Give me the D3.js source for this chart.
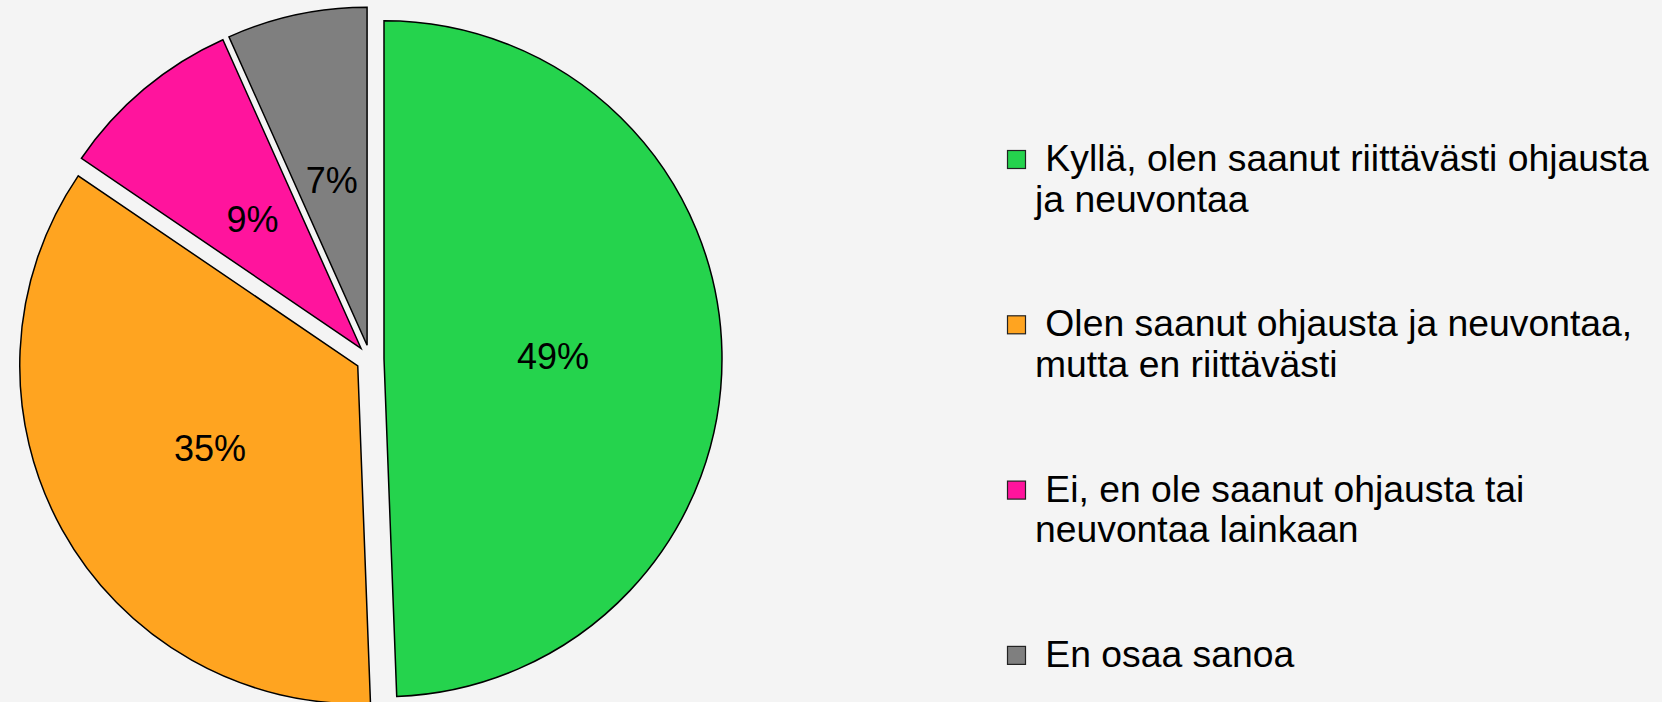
<!DOCTYPE html>
<html>
<head>
<meta charset="utf-8">
<script src="https://cdn.jsdelivr.net/npm/d3@7"></script>
<style>
  html, body { margin: 0; padding: 0; background: #f4f4f4; }
  svg { display: block; }
</style>
</head>
<body>
<svg id="chart"></svg>
<script>
// categories (legend lines) and shares in percent
var categories = [
  ["Kyllä, olen saanut riittävästi ohjausta", "ja neuvontaa"],
  ["Olen saanut ohjausta ja neuvontaa,", "mutta en riittävästi"],
  ["Ei, en ole saanut ohjausta tai", "neuvontaa lainkaan"],
  ["En osaa sanoa"]
];
var values = [49.4, 35.1, 8.8, 6.7];
var colors = ["#25d34d", "#ffa420", "#ff149d", "#7f7f7f"];

window.onload = function () {
  var width = 1662;
  var height = 702;
  var cx = 370, cy = 359;
  var radius = 338;
  var explode = 14;

  var svg = d3.select("#chart").attr("width", width).attr("height", height);

  var pie = d3.pie().sort(null).value(function (d) { return d; });
  var arcs = pie(values);

  var arc = d3.arc().innerRadius(0).outerRadius(radius);

  var g = svg.append("g").attr("transform", "translate(" + cx + "," + cy + ")");

  // offset each slice outwards along its middle angle
  function shift(d) {
    var a = (d.startAngle + d.endAngle) / 2;
    return "translate(" + (Math.sin(a) * explode) + "," + (-Math.cos(a) * explode) + ")";
  }

  var slices = g.selectAll("g.slice")
    .data(arcs)
    .enter()
    .append("g")
    .attr("class", "slice")
    .attr("transform", shift);

  slices.append("path")
    .attr("d", arc)
    .attr("fill", function (d, i) { return colors[i]; })
    .attr("stroke", "#000")
    .attr("stroke-width", 1.5)
    .attr("stroke-linejoin", "miter");

  slices.append("text")
    .attr("transform", function (d) {
      return "translate(" + arc.centroid(d) + ")";
    })
    .attr("text-anchor", "middle")
    .attr("dy", "0.36em")
    .style("font-family", "Arial, 'Liberation Sans', sans-serif")
    .style("font-size", "36px")
    .style("fill", "#000")
    .text(function (d) { return Math.round(d.data) + "%"; });

  // legend
  var legendX = 1007;
  var firstBase = 171;
  var itemGap = 165.3;
  var lineH = 40.5;

  var legend = svg.append("g");
  var items = legend.selectAll("g")
    .data(categories)
    .enter()
    .append("g")
    .attr("transform", function (d, i) {
      return "translate(" + legendX + "," + (firstBase + i * itemGap) + ")";
    });

  items.append("rect")
    .attr("x", 0.5)
    .attr("y", -20.5)
    .attr("width", 18)
    .attr("height", 18)
    .attr("fill", function (d, i) { return colors[i]; })
    .attr("stroke", "#222")
    .attr("stroke-width", 1.2);

  items.append("text")
    .style("font-family", "Arial, 'Liberation Sans', sans-serif")
    .style("font-size", "37.3px")
    .style("fill", "#000")
    .attr("xml:space", "preserve")
    .selectAll("tspan")
    .data(function (d) { return d; })
    .enter()
    .append("tspan")
    .attr("x", 28)
    .attr("y", function (d, j) { return j * lineH; })
    .text(function (d, j) { return j === 0 ? " " + d : d; });
};
</script>
</body>
</html>
